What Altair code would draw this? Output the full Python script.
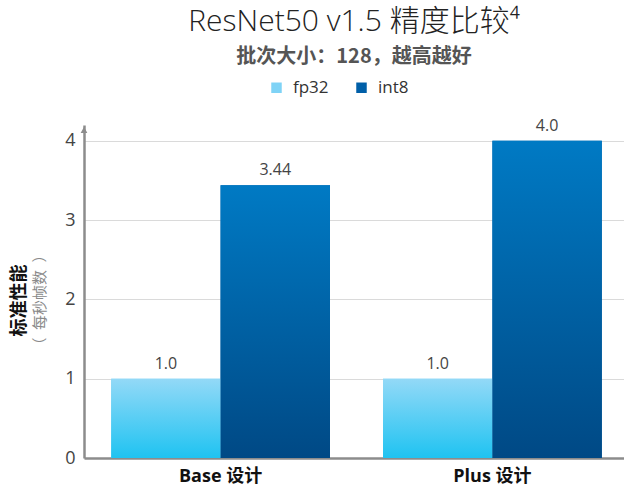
import altair as alt
import pandas as pd

designs = ["Base 设计", "Plus 设计"]
series_names = ["fp32", "int8"]
fp32_values = [1.0, 1.0]
int8_values = [3.44, 4.0]
fp32_labels = ["1.0", "1.0"]
int8_labels = ["3.44", "4.0"]
y_ticks = [0, 1, 2, 3, 4]
title_text = "ResNet50 v1.5 精度比较⁴"
subtitle_text = "批次大小：128，越高越好"
y_title = "标准性能"
y_subtitle = ["（\u2002每秒帧数\u2002）"]

rows = []
for i, d in enumerate(designs):
    rows.append({"design": d, "series": "fp32", "value": fp32_values[i], "label": fp32_labels[i]})
    rows.append({"design": d, "series": "int8", "value": int8_values[i], "label": int8_labels[i]})
df = pd.DataFrame(rows)

FONT = "Open Sans, Noto Sans CJK SC, sans-serif"
CJK = "Noto Sans CJK SC, sans-serif"
AXIS_GREY = "#8c8c8c"

grad_fp32 = alt.LinearGradient(
    gradient="linear", x1=0, y1=0, x2=0, y2=1,
    stops=[alt.GradientStop(color="#93d9f7", offset=0),
           alt.GradientStop(color="#1fc3f1", offset=1)])
grad_int8 = alt.LinearGradient(
    gradient="linear", x1=0, y1=0, x2=0, y2=1,
    stops=[alt.GradientStop(color="#007ac4", offset=0),
           alt.GradientStop(color="#004985", offset=1)])

x = alt.X("design:N", sort=designs,
          scale=alt.Scale(range=[0, 545], paddingInner=0.195, paddingOuter=0.1),
          axis=alt.Axis(title=None, labelAngle=0, labelFontSize=18, labelFontWeight="bold",
                        labelColor="#111", labelPadding=9, ticks=False,
                        domainColor=AXIS_GREY, domainWidth=2.5, grid=False, labelFont=FONT))
xoff = alt.XOffset("series:N", sort=series_names,
                   scale=alt.Scale(paddingInner=0, paddingOuter=0))
y = alt.Y("value:Q", scale=alt.Scale(domain=[0, 4.2], nice=False),
          axis=alt.Axis(values=y_ticks, title=y_title, titleFontSize=18, titleFontWeight="bold",
                        titleColor="#111", titleAngle=270, titleX=-65, titleY=175,
                        titleAlign="center", titleBaseline="middle", titleFont=CJK,
                        labelFontSize=18, labelColor="#444", labelPadding=9, ticks=False,
                        domainColor=AXIS_GREY, domainWidth=2.5, gridColor="#dadada",
                        gridWidth=1.2, labelFont=FONT))

legend_bars = alt.Chart(df).mark_bar().encode(
    x=x, xOffset=xoff, y=y,
    color=alt.Color("series:N", sort=series_names,
                    scale=alt.Scale(domain=series_names, range=["#7fd3f6", "#005fa8"]),
                    legend=alt.Legend(orient="none", legendX=184, legendY=-46,
                                      direction="horizontal", title=None,
                                      symbolType="square", symbolSize=110,
                                      labelFontSize=17, labelColor="#333", labelFont=FONT,
                                      columnPadding=24, labelOffset=8,
                                      symbolStrokeWidth=0)),
)

grad_bars = alt.Chart(df).mark_bar().encode(
    x=x, xOffset=xoff, y=y,
    fill=alt.condition(alt.datum.series == "fp32", alt.value(grad_fp32), alt.value(grad_int8)),
)

labels = alt.Chart(df).mark_text(baseline="bottom", dy=-7, fontSize=16, color="#444",
                                 font=FONT).encode(
    x=x, xOffset=xoff, y=y, text="label:N")

arrow = alt.Chart(pd.DataFrame({"a": [0]})).mark_point(
    shape="triangle-up", filled=True, color=AXIS_GREY, size=45, opacity=1).encode(
    x=alt.value(0), y=alt.value(5))

ysub = alt.Chart(pd.DataFrame({"t": y_subtitle})).mark_text(
    angle=270, fontSize=15, color="#8a8a8a", font=CJK, align="center",
    baseline="middle").encode(x=alt.value(-44), y=alt.value(175), text="t:N")

chart = alt.layer(legend_bars, grad_bars, labels, arrow, ysub).properties(
    width=540, height=333,
    title=alt.TitleParams(text=title_text, subtitle=subtitle_text, fontSize=30,
                          fontWeight=300, color="#222", font=FONT,
                          subtitleFont=CJK, subtitleFontSize=20,
                          subtitleFontWeight="bold", subtitleColor="#555",
                          subtitlePadding=10, anchor="middle", offset=12),
    autosize=alt.AutoSizeParams(type="none"),
    padding={"left": 84, "top": 125, "right": 0, "bottom": 29},
).configure_view(stroke=None)

chart.save("out.html", embed_options={"renderer": "svg", "actions": False})
